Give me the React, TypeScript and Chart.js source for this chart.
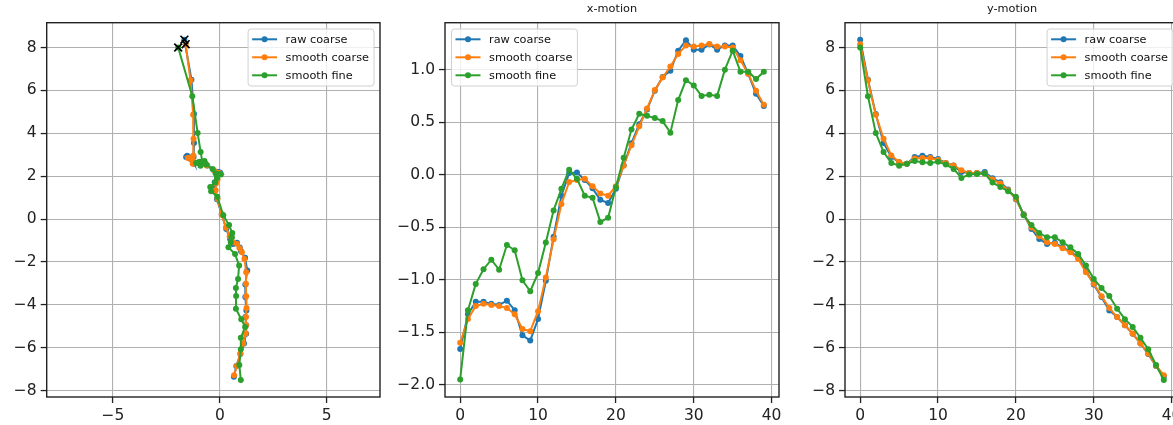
import React, { useEffect, useRef } from "react";
import Chart from "chart.js/auto";

// ---- data ----
const FRAMES = [0, 1, 2, 3, 4, 5, 6, 7, 8, 9, 10, 11, 12, 13, 14, 15, 16, 17, 18, 19, 20, 21, 22, 23, 24, 25, 26, 27, 28, 29, 30, 31, 32, 33, 34, 35, 36, 37, 38, 39];
const SERIES_NAMES = ["raw coarse", "smooth coarse", "smooth fine"];
const COLORS = ["#1f77b4", "#ff7f0e", "#2ca02c"];

const X_RAW_COARSE = [-1.66, -1.33, -1.21, -1.21, -1.23, -1.24, -1.2, -1.29, -1.53, -1.58, -1.375, -1.01, -0.59, -0.2, 0.015, 0.02, -0.05, -0.13, -0.24, -0.27, -0.135, 0.09, 0.3, 0.48, 0.62, 0.8, 0.93, 0.99, 1.18, 1.28, 1.19, 1.19, 1.24, 1.19, 1.23, 1.23, 1.13, 0.96, 0.77, 0.655];
const X_SMOOTH_COARSE = [-1.6, -1.375, -1.25, -1.23, -1.24, -1.25, -1.27, -1.33, -1.47, -1.49, -1.3, -0.98, -0.615, -0.28, -0.07, -0.05, -0.04, -0.11, -0.18, -0.2, -0.11, 0.085, 0.28, 0.46, 0.63, 0.805, 0.925, 1.03, 1.15, 1.23, 1.22, 1.23, 1.245, 1.22, 1.22, 1.21, 1.09, 0.96, 0.8, 0.665];
const X_SMOOTH_FINE = [-1.95, -1.29, -1.04, -0.9, -0.81, -0.905, -0.67, -0.72, -1.006, -1.11, -0.937, -0.645, -0.34, -0.135, 0.047, -0.04, -0.2, -0.22, -0.45, -0.41, -0.12, 0.16, 0.43, 0.58, 0.56, 0.54, 0.51, 0.4, 0.71, 0.9, 0.85, 0.75, 0.76, 0.75, 1.0, 1.18, 0.98, 0.98, 0.91, 0.98];

const Y_RAW_COARSE = [8.37, 6.5, 4.9, 3.55, 2.9, 2.65, 2.58, 2.9, 2.95, 2.9, 2.8, 2.62, 2.5, 2.19, 2.15, 2.15, 2.19, 1.9, 1.72, 1.38, 0.92, 0.22, -0.46, -0.93, -1.16, -1.1, -1.33, -1.5, -1.8, -2.4, -3.05, -3.64, -4.26, -4.57, -4.95, -5.35, -5.8, -6.3, -6.85, -7.35];
const Y_SMOOTH_COARSE = [8.16, 6.47, 4.87, 3.75, 2.97, 2.66, 2.58, 2.82, 2.85, 2.85, 2.75, 2.62, 2.5, 2.28, 2.15, 2.15, 2.12, 1.85, 1.66, 1.35, 0.95, 0.2, -0.39, -0.8, -1.08, -1.16, -1.36, -1.55, -1.86, -2.48, -3.02, -3.6, -4.15, -4.57, -4.95, -5.34, -5.8, -6.27, -6.84, -7.28];
const Y_SMOOTH_FINE = [8.0, 5.73, 4.02, 3.13, 2.62, 2.49, 2.58, 2.71, 2.65, 2.62, 2.67, 2.54, 2.34, 1.92, 2.08, 2.1, 2.12, 1.7, 1.5, 1.3, 1.04, 0.18, -0.28, -0.65, -0.85, -0.85, -1.08, -1.32, -1.63, -2.17, -2.79, -3.22, -3.59, -4.18, -4.67, -5.03, -5.54, -6.07, -6.81, -7.51];

const X_SERIES = [X_RAW_COARSE, X_SMOOTH_COARSE, X_SMOOTH_FINE];
const Y_SERIES = [Y_RAW_COARSE, Y_SMOOTH_COARSE, Y_SMOOTH_FINE];

const TITLES = ["", "x-motion", "y-motion"];

// ---- style ----
const FONT = '"DejaVu Sans", sans-serif';
const TICK_FONT = 15.5;
const SMALL_FONT = 11.3;
const TOP = 22.7;
const BOTTOM_AXIS_H = 28;
const H = 425;

type Panel = {
  left: number; right: number; canvasW: number;
  xMin: number; xMax: number; xStep: number;
  yMin: number; yMax: number; yStep: number; yDec: number;
  title: string; legendSide: "left" | "right"; kind: "traj" | "x" | "y";
};

const PANELS: Panel[] = [
  { left: 46.7, right: 380, canvasW: 400, xMin: -8.1, xMax: 7.49, xStep: 5, yMin: -8.3, yMax: 9.16, yStep: 2, yDec: 0, title: TITLES[0], legendSide: "right", kind: "traj" },
  { left: 445, right: 779, canvasW: 800, xMin: -1.95, xMax: 40.95, xStep: 10, yMin: -2.117, yMax: 1.447, yStep: 0.5, yDec: 1, title: TITLES[1], legendSide: "left", kind: "x" },
  { left: 845, right: 1179, canvasW: 1200, xMin: -1.95, xMax: 40.95, xStep: 10, yMin: -8.3, yMax: 9.16, yStep: 2, yDec: 0, title: TITLES[2], legendSide: "right", kind: "y" },
];

function fmt(dec: number) {
  return (v: any) => {
    let n = Number(v);
    if (Math.abs(n) < 1e-9) n = 0;
    const s = dec ? n.toFixed(dec) : String(Math.round(n));
    return s.replace("-", "\u2212");
  };
}

function makePlugin(p: Panel) {
  return {
    id: "decor",
    afterDraw(chart: any) {
      const ctx = chart.ctx as CanvasRenderingContext2D;
      const a = chart.chartArea;
      ctx.save();
      // frame
      ctx.strokeStyle = "#222";
      ctx.lineWidth = 1.4;
      ctx.strokeRect(a.left, a.top, a.right - a.left, a.bottom - a.top);
      // title
      if (p.title) {
        ctx.font = `${SMALL_FONT}px ${FONT}`;
        ctx.fillStyle = "#111";
        ctx.textAlign = "center";
        ctx.textBaseline = "middle";
        ctx.fillText(p.title, (a.left + a.right) / 2, 9);
      }
      // legend
      ctx.font = `${SMALL_FONT}px ${FONT}`;
      const tw = Math.max(...SERIES_NAMES.map((l) => ctx.measureText(l).width));
      const boxW = 37.5 + tw + 5;
      const boxH = 57;
      const bx = p.legendSide === "right" ? a.right - 6 - boxW : a.left + 6.5;
      const by = a.top + 6.3;
      ctx.beginPath();
      const r = 3;
      ctx.moveTo(bx + r, by);
      ctx.lineTo(bx + boxW - r, by);
      ctx.quadraticCurveTo(bx + boxW, by, bx + boxW, by + r);
      ctx.lineTo(bx + boxW, by + boxH - r);
      ctx.quadraticCurveTo(bx + boxW, by + boxH, bx + boxW - r, by + boxH);
      ctx.lineTo(bx + r, by + boxH);
      ctx.quadraticCurveTo(bx, by + boxH, bx, by + boxH - r);
      ctx.lineTo(bx, by + r);
      ctx.quadraticCurveTo(bx, by, bx + r, by);
      ctx.closePath();
      ctx.fillStyle = "rgba(255,255,255,0.8)";
      ctx.fill();
      ctx.strokeStyle = "#d0d0d0";
      ctx.lineWidth = 1;
      ctx.stroke();
      SERIES_NAMES.forEach((name, k) => {
        const cy = by + 10.3 + 18 * k;
        ctx.strokeStyle = COLORS[k];
        ctx.lineWidth = 2;
        ctx.beginPath();
        ctx.moveTo(bx + 4, cy);
        ctx.lineTo(bx + 29, cy);
        ctx.stroke();
        ctx.fillStyle = COLORS[k];
        ctx.beginPath();
        ctx.arc(bx + 16.5, cy, 3, 0, Math.PI * 2);
        ctx.fill();
        ctx.fillStyle = "#111";
        ctx.textAlign = "left";
        ctx.textBaseline = "middle";
        ctx.fillText(name, bx + 37.5, cy + 0.5);
      });
      ctx.restore();
    },
  };
}

function makeDatasets(p: Panel) {
  const ds: any[] = [];
  SERIES_NAMES.forEach((name, s) => {
    let data;
    if (p.kind === "traj") data = X_SERIES[s].map((x, i) => ({ x, y: Y_SERIES[s][i] }));
    else if (p.kind === "x") data = FRAMES.map((f, i) => ({ x: f, y: X_SERIES[s][i] }));
    else data = FRAMES.map((f, i) => ({ x: f, y: Y_SERIES[s][i] }));
    ds.push({
      label: name,
      data,
      showLine: true,
      borderColor: COLORS[s],
      backgroundColor: COLORS[s],
      pointBackgroundColor: COLORS[s],
      pointBorderColor: COLORS[s],
      pointBorderWidth: 0,
      pointRadius: 3,
      borderWidth: 2,
      tension: 0,
      order: 3 - s,
    });
  });
  if (p.kind === "traj") {
    ds.push({
      label: "start",
      data: SERIES_NAMES.map((_, s) => ({ x: X_SERIES[s][0], y: Y_SERIES[s][0] })),
      showLine: false,
      pointStyle: "crossRot",
      pointRadius: 5.5,
      pointBorderWidth: 1.7,
      pointBorderColor: "#000",
      pointBackgroundColor: "#000",
      order: 0,
    });
  }
  return ds;
}

function PanelChart({ p }: { p: Panel }) {
  const ref = useRef<HTMLCanvasElement>(null);
  useEffect(() => {
    if (!ref.current) return;
    const yW = Math.min(50, p.left);
    const tickFont = { family: FONT, size: TICK_FONT };
    const grid = { color: "#b0b0b0", lineWidth: 1.1, drawTicks: true, tickLength: 6, tickColor: "#222", tickWidth: 1.3 };
    const chart = new Chart(ref.current, {
      type: "scatter",
      data: { datasets: makeDatasets(p) },
      options: {
        animation: false,
        responsive: false,
        maintainAspectRatio: false,
        events: [],
        layout: { padding: { left: p.left - yW, top: TOP, right: p.canvasW - p.right, bottom: 0 } },
        plugins: { legend: { display: false }, tooltip: { enabled: false }, title: { display: false } },
        scales: {
          x: {
            type: "linear",
            min: p.xMin,
            max: p.xMax,
            afterFit: (s: any) => { s.height = BOTTOM_AXIS_H; },
            ticks: { stepSize: p.xStep, includeBounds: false, font: tickFont, color: "#222", padding: 4, maxRotation: 0, autoSkip: false, callback: fmt(0) },
            grid,
            border: { display: false },
          },
          y: {
            type: "linear",
            min: p.yMin,
            max: p.yMax,
            afterFit: (s: any) => { s.width = yW; },
            ticks: { stepSize: p.yStep, includeBounds: false, font: tickFont, color: "#222", padding: 4, autoSkip: false, callback: fmt(p.yDec) },
            grid,
            border: { display: false },
          },
        },
      } as any,
      plugins: [makePlugin(p)],
    });
    return () => chart.destroy();
  }, []);
  return (
    <canvas
      ref={ref}
      width={p.canvasW}
      height={H}
      style={{ position: "absolute", left: 0, top: 0, width: p.canvasW, height: H }}
    />
  );
}

export default function App() {
  return (
    <div style={{ position: "fixed", left: 0, top: 0, width: 1173, height: H, overflow: "hidden", background: "#fff" }}>
      {PANELS.map((p, i) => (
        <PanelChart key={i} p={p} />
      ))}
    </div>
  );
}
